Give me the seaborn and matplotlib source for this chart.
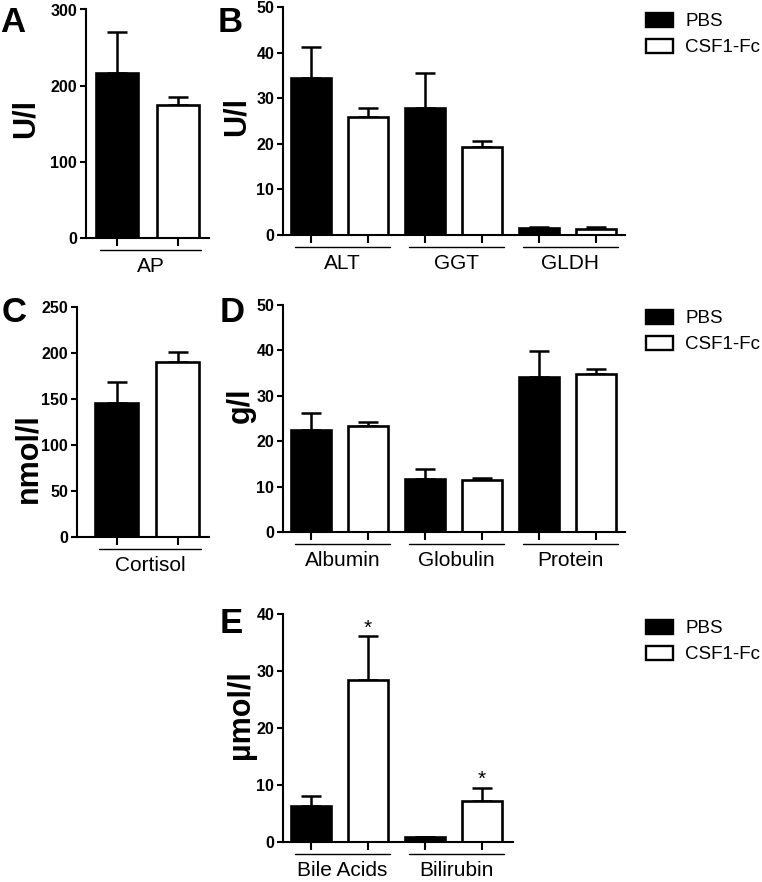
import numpy as np
import pandas as pd
import matplotlib.pyplot as plt
import seaborn as sns
from matplotlib.patches import Patch

# ── DATA (mean + SEM) ─────────────────────────────────────────
groups = ["PBS", "CSF1-Fc"]

a_names = ["AP"]
a_pbs = [217]
a_pbs_err = [53]
a_csf = [174]
a_csf_err = [11]

b_names = ["ALT", "GGT", "GLDH"]
b_pbs = [34.4, 27.8, 1.5]
b_pbs_err = [6.8, 7.7, 0.25]
b_csf = [25.8, 19.4, 1.4]
b_csf_err = [2.1, 1.3, 0.35]

c_names = ["Cortisol"]
c_pbs = [145.7]
c_pbs_err = [22.4]
c_csf = [190]
c_csf_err = [11]

d_names = ["Albumin", "Globulin", "Protein"]
d_pbs = [22.5, 11.65, 34.1]
d_pbs_err = [3.7, 2.25, 5.8]
d_csf = [23.4, 11.5, 34.8]
d_csf_err = [0.8, 0.5, 1.1]

e_names = ["Bile Acids", "Bilirubin"]
e_pbs = [6.36, 0.85]
e_pbs_err = [1.74, 0.1]
e_csf = [28.4, 7.2]
e_csf_err = [7.7, 2.4]
e_star = [True, True]   # significance on CSF1-Fc bars

# ── STYLE ─────────────────────────────────────────────────────
W, H = 762, 882
sns.set_theme(style="ticks")
plt.rcParams["font.family"] = ["Liberation Sans", "DejaVu Sans"]
plt.rcParams["axes.edgecolor"] = "black"
plt.rcParams["axes.linewidth"] = 1.5
plt.rcParams["xtick.color"] = "black"
plt.rcParams["ytick.color"] = "black"
plt.rcParams["text.color"] = "black"
plt.rcParams["axes.labelcolor"] = "black"

palette = {"PBS": "black", "CSF1-Fc": "white"}

fig = plt.figure(figsize=(W / 100, H / 100), dpi=100)


def px_axes(left, top, right, bottom):
    return fig.add_axes([left / W, 1 - bottom / H, (right - left) / W, (bottom - top) / H])


def panel(box, xlim, names, pbs, pbs_err, csf, csf_err, ymax, ystep,
          ylabel, ylab_xy, stars=None):
    left, top, right, bottom = box
    ax = px_axes(*box)
    h_px = bottom - top

    bars, vals, errs, hue = [], [], [], []
    for i, n in enumerate(names):
        bars += [n + " PBS", n + " CSF1-Fc"]
        vals += [pbs[i], csf[i]]
        errs += [pbs_err[i], csf_err[i]]
        hue += groups
    df = pd.DataFrame({"bar": bars, "value": vals, "err": errs, "group": hue})

    sns.barplot(data=df, x="bar", y="value", hue="group", palette=palette,
                dodge=False, width=0.7, edgecolor="black", linewidth=1.9,
                errorbar=None, legend=False, ax=ax)
    pos = np.arange(len(df))
    ax.errorbar(pos, df["value"], yerr=[np.zeros(len(df)), df["err"]],
                fmt="none", ecolor="black", elinewidth=1.8, capsize=7.5,
                capthick=1.8, zorder=0.9)

    ax.set_xlim(*xlim)
    ax.set_ylim(0, ymax)
    ax.set_yticks(np.arange(0, ymax + 1, ystep))
    ax.set_xticks(pos)
    ax.set_xticklabels([])
    ax.set_xlabel("")
    sns.despine(ax=ax)
    ax.tick_params(axis="y", length=4, width=1.5, direction="out", labelsize=11.5, pad=2.5)
    ax.tick_params(axis="x", length=6, width=1.5, direction="out")
    for t in ax.get_yticklabels():
        t.set_fontweight("bold")

    # group underline + group name below the axis
    trans = ax.get_xaxis_transform()
    for i, n in enumerate(names):
        x0 = 2 * i
        ax.plot([x0 - 0.28, x0 + 1.38], [-12 / h_px] * 2, color="black",
                lw=1.0, transform=trans, clip_on=False)
        ax.text(x0 + 0.55, -34 / h_px, n, ha="center", va="baseline",
                fontsize=15, transform=trans)

    if stars is not None:
        for i, s in enumerate(stars):
            if s:
                ax.annotate("*", (2 * i + 1, csf[i] + csf_err[i]),
                            xytext=(0, -1), textcoords="offset points",
                            ha="center", va="bottom", fontsize=15)

    ax.set_ylabel(ylabel, fontsize=22, fontweight="bold")
    lx, ly = ylab_xy
    ax.yaxis.set_label_coords((lx - left) / (right - left), (bottom - ly) / h_px)
    ax.yaxis.label.set_verticalalignment("center")
    return ax


def legend_at(top):
    handles = [Patch(facecolor="black", edgecolor="black", linewidth=1.7),
               Patch(facecolor="white", edgecolor="black", linewidth=1.7)]
    fig.legend(handles, groups, loc="upper left",
               bbox_to_anchor=(646 / W, 1 - top / H), frameon=False,
               fontsize=13.5, handlelength=1.45, handleheight=0.75,
               handletextpad=0.65, labelspacing=0.45, borderpad=0,
               borderaxespad=0)


# ── PANELS ────────────────────────────────────────────────────
panel((86, 9.5, 209, 237.7), (-0.508, 1.508), a_names, a_pbs, a_pbs_err,
      a_csf, a_csf_err, 300, 100, "U/l", (26, 118))
panel((283.3, 7, 625, 235), (-0.486, 5.509), b_names, b_pbs, b_pbs_err,
      b_csf, b_csf_err, 50, 10, "U/l", (237, 117))
panel((77, 306.7, 209, 536.7), (-0.648, 1.516), c_names, c_pbs, c_pbs_err,
      c_csf, c_csf_err, 250, 50, "nmol/l", (28, 458))
panel((283.3, 305, 625, 532.3), (-0.486, 5.509), d_names, d_pbs, d_pbs_err,
      d_csf, d_csf_err, 50, 10, "g/l", (241, 405))
panel((283.3, 614, 513, 842.3), (-0.486, 3.544), e_names, e_pbs, e_pbs_err,
      e_csf, e_csf_err, 40, 10, "µmol/l", (241, 715), stars=e_star)

legend_at(13)
legend_at(310)
legend_at(620)

# panel letters
for letter, x, y in [("A", 0, 6), ("B", 218, 6), ("C", 2, 296),
                     ("D", 220, 296), ("E", 220, 607)]:
    fig.text(x / W, 1 - y / H, letter, fontsize=25, fontweight="bold",
             ha="left", va="top")

fig.savefig("out.png", dpi=100)
